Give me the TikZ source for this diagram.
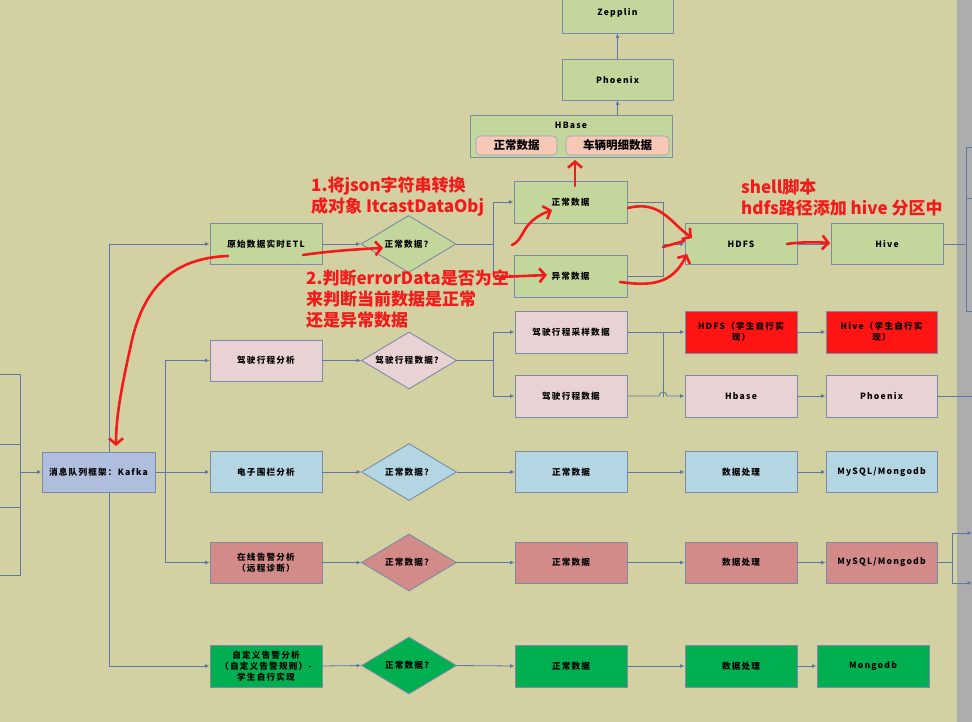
\documentclass[tikz,border=0pt]{standalone}
\usepackage{fontspec}
\newfontfamily\cjk{Noto Sans CJK SC}
\newfontfamily\cjkbox{Noto Sans CJK SC}[LetterSpace=14]
\usetikzlibrary{shapes.geometric,arrows.meta}
\definecolor{bgc}{HTML}{D3D1A1}
\definecolor{grayc}{HTML}{ADADAD}
\definecolor{boxline}{HTML}{7A8CA8}
\definecolor{flowc}{HTML}{5A78A8}
\definecolor{gbox}{HTML}{C3D69B}
\definecolor{kbox}{HTML}{B0BEDD}
\definecolor{pbox}{HTML}{E8D2D4}
\definecolor{rbox}{HTML}{FF1414}
\definecolor{bbox}{HTML}{B4D5E2}
\definecolor{rosebox}{HTML}{D38B89}
\definecolor{g2box}{HTML}{00B050}
\definecolor{tagc}{HTML}{F6C9B7}
\definecolor{penred}{HTML}{F21A1A}
\begin{document}
\begin{tikzpicture}[x=1pt,y=-1pt,
  box/.style={draw=boxline, line width=0.9pt, minimum width=112pt, minimum height=41pt, inner sep=1pt, align=center, font=\cjkbox\bfseries\fontsize{8.6}{11}\selectfont, text=black},
  dia/.style={diamond, aspect=1.7, draw=boxline, line width=0.9pt, minimum width=95pt, minimum height=57pt, inner sep=0pt, align=center, font=\cjkbox\bfseries\fontsize{8.6}{11}\selectfont, text=black},
  tag/.style={draw=boxline!80, line width=0.6pt, fill=tagc, rounded corners=4pt, minimum height=19pt, inner sep=1pt, font=\cjk\bfseries\fontsize{11.5}{13}\selectfont},
  flow/.style={draw=flowc, line width=0.8pt, -{Latex[length=4.5pt,width=4pt]}},
  link/.style={draw=flowc, line width=0.8pt},
  redpen/.style={draw=penred, line width=2.6pt, line cap=round, line join=round},
  redarr/.style={redpen, -{Straight Barb[length=6pt,width=14pt]}},
  redtxt/.style={text=penred, anchor=west, inner sep=0pt, align=left, font=\cjk\bfseries\fontsize{17}{21}\selectfont}
]
\useasboundingbox (0,0) rectangle (972,722);
\clip (0,0) rectangle (972,722);
\fill[bgc] (0,0) rectangle (972,722);
\fill[grayc] (957,0) rectangle (972,722);

% top column
\node[box, fill=gbox, minimum width=111pt] (zep) at (617.5,12.5) {Zepplin};
\node[box, fill=gbox, minimum width=111pt] (phx1) at (617.5,79.5) {Phoenix};
\node[box, fill=gbox, minimum width=202pt, minimum height=42pt] (hbase) at (571,136) {};
\node[font=\cjkbox\bfseries\fontsize{8.6}{11}\selectfont, inner sep=0pt] (hblbl) at (571,125) {HBase};
\node[tag, minimum width=81pt] (tg1) at (516.5,145.5) {正常数据};
\node[tag, minimum width=103pt] (tg2) at (617.5,145.5) {车辆明细数据};
\draw[flow] (hbase.north -| phx1) -- (phx1.south);
\draw[flow] (phx1.north) -- (zep.south);

% Kafka
\node[box, fill=kbox, minimum width=113pt, minimum height=40pt] (kafka) at (98.5,472) {消息队列框架：Kafka};

% row 1
\node[box, fill=gbox] (etl) at (266,244) {原始数据实时ETL};
\node[dia, fill=gbox] (d1) at (408.5,244) {正常数据？};
\node[box, fill=gbox, minimum width=113pt, minimum height=42pt] (ok1) at (570.5,202) {正常数据};
\node[box, fill=gbox, minimum width=113pt, minimum height=42pt] (err1) at (570.5,276) {异常数据};
\node[box, fill=gbox] (hdfs) at (741,244) {HDFS};
\node[box, fill=gbox] (hive) at (887,244) {Hive};

% row 2
\node[box, fill=pbox] (trip) at (266,360.5) {驾驶行程分析};
\node[dia, fill=pbox] (d2) at (409,360.5) {驾驶行程数据？};
\node[box, fill=pbox, minimum height=42pt] (samp) at (571,332) {驾驶行程采样数据};
\node[box, fill=pbox, minimum height=42pt] (tripd) at (571,396) {驾驶行程数据};
\node[box, fill=rbox, minimum height=42pt] (hdfsr) at (741,332) {HDFS（学生自行实\\现）};
\node[box, fill=rbox, minimum width=111pt, minimum height=42pt] (hiver) at (881.5,332) {Hive（学生自行实\\现）};
\node[box, fill=pbox, minimum height=42pt] (hb2) at (741,396) {Hbase};
\node[box, fill=pbox, minimum width=111pt, minimum height=42pt] (phx2) at (881.5,396) {Phoenix};

% row 3
\node[box, fill=bbox] (fence) at (266,472) {电子围栏分析};
\node[dia, fill=bbox] (d3) at (409,472) {正常数据？};
\node[box, fill=bbox] (ok3) at (571,472) {正常数据};
\node[box, fill=bbox] (proc3) at (741,472) {数据处理};
\node[box, fill=bbox, minimum width=111pt] (my3) at (881.5,472) {MySQL/Mongodb};

% row 4
\node[box, fill=rosebox] (alarm) at (266,562.5) {在线告警分析\\（远程诊断）};
\node[dia, fill=rosebox] (d4) at (409,562.5) {正常数据？};
\node[box, fill=rosebox] (ok4) at (571,562.5) {正常数据};
\node[box, fill=rosebox] (proc4) at (741,562.5) {数据处理};
\node[box, fill=rosebox, minimum width=111pt] (my4) at (881.5,562.5) {MySQL/Mongodb};

% row 5
\node[box, fill=g2box, minimum height=42pt] (custom) at (266,666) {自定义告警分析\\（自定义告警规则）-\\学生自行实现};
\node[dia, fill=g2box] (d5) at (409,665.5) {正常数据？};
\node[box, fill=g2box, minimum height=42pt] (ok5) at (571,666) {正常数据};
\node[box, fill=g2box, minimum height=42pt] (proc5) at (741,666) {数据处理};
\node[box, fill=g2box, minimum height=42pt] (mongo) at (873,666) {Mongodb};

% coordinates
\coordinate (tA) at (109,244);
\coordinate (tB) at (165,472);
\coordinate (lb) at (20,472);
\coordinate (l1) at (0,374);
\coordinate (l2) at (0,444);
\coordinate (l3) at (0,507);
\coordinate (l4) at (0,575);
\coordinate (j0) at (493,244);
\coordinate (j1) at (663,244);
\coordinate (j2) at (493,360.5);
\coordinate (hopc) at (663,396);
\coordinate (rb) at (966,244);
\coordinate (r1) at (972,147);
\coordinate (r2) at (972,198);
\coordinate (r3) at (972,311);
\coordinate (pe) at (972,396);
\coordinate (jb) at (952,562.5);
\coordinate (o1) at (972,533);
\coordinate (o2) at (972,583);

% connectors
\draw[flow] (kafka.north -| tA) -- (tA) -- (etl.west);
\draw[flow] (kafka.south -| tA) |- (custom.west);
\draw[flow] (kafka.east) -- (fence.west);
\draw[flow] (tB) |- (trip.west);
\draw[flow] (tB) |- (alarm.west);
\draw[flow] (lb) -- (kafka.west);
\draw[link] (l1) -| (lb |- l4) -- (l4);
\draw[link] (l2) -- (l2 -| lb);
\draw[link] (l3) -- (l3 -| lb);

\draw[flow] (etl.east) -- (d1.west);
\draw[link] (d1.east) -- (j0);
\draw[flow] (j0) |- (ok1.west);
\draw[flow] (j0) |- (err1.west);
\draw[link] (ok1.east) -| (j1);
\draw[link] (err1.east) -| (j1);
\draw[flow] (j1) -- (hdfs.west);
\draw[flow] (hdfs.east) -- (hive.west);
\draw[link] (hive.east) -- (rb);
\draw[link] (r1) -| (rb |- r3) -- (r3);
\draw[link] (r2) -- (r2 -| rb);

\draw[flow] (trip.east) -- (d2.west);
\draw[link] (d2.east) -- (j2);
\draw[flow] (j2) |- (samp.west);
\draw[flow] (j2) |- (tripd.west);
\draw[flow] (samp.east) -- (hdfsr.west);
\draw[link] (samp.east -| hopc) -- ([yshift=-1pt]hopc);
\draw[flow] (tripd.east) -- ([xshift=-4pt]hopc) arc[start angle=180,end angle=0,radius=4pt] -- (hb2.west);
\draw[flow] (hdfsr.east) -- (hiver.west);
\draw[flow] (hb2.east) -- (phx2.west);
\draw[link] (phx2.east) -- (pe);

\draw[flow] (fence.east) -- (d3.west);
\draw[flow] (d3.east) -- (ok3.west);
\draw[flow] (ok3.east) -- (proc3.west);
\draw[flow] (proc3.east) -- (my3.west);

\draw[flow] (alarm.east) -- (d4.west);
\draw[flow] (d4.east) -- (ok4.west);
\draw[flow] (ok4.east) -- (proc4.west);
\draw[flow] (proc4.east) -- (my4.west);
\draw[link] (my4.east) -- (jb);
\draw[flow] (jb) |- (o1);
\draw[flow] (jb) |- (o2);

\draw[flow] (custom.east) -- (d5.west);
\draw[flow] (d5.east) -- (ok5.west);
\draw[flow] (ok5.east) -- (proc5.west);
\draw[flow] (proc5.east) -- (mongo.west);

% red annotations
\node[redtxt] (n1) at (311,196.5) {1.将json字符串转换\\成对象 ItcastDataObj};
\node[redtxt] (n2) at (306,299) {2.判断errorData是否为空\\来判断当前数据是正常\\还是异常数据};
\node[redtxt] (n3) at (741,197.5) {shell脚本\\hdfs路径添加 hive 分区中};

\draw[redarr] (228,256) .. controls (175,258) and (145,285) .. (132,340) .. controls (122,385) and (116,415) .. (116,446);
\draw[redarr] (303,255) .. controls (330,251) and (360,249) .. (383,248);
\draw[redarr] (512,245) .. controls (525,240) and (520,222) .. (552,210);
\draw[redarr] (500,277) -- (547,275);
\draw[redarr] (628,208) .. controls (660,200) and (670,222) .. (692,238);
\draw[redarr] (620,282) .. controls (650,286) and (672,285) .. (687,254);
\draw[redpen] (663,247) -- (684,241);
\draw[redarr] (787,244) .. controls (800,242) and (815,242) .. (830,243);
\draw[redarr] (575,186) -- (575,160);
\end{tikzpicture}
\end{document}
